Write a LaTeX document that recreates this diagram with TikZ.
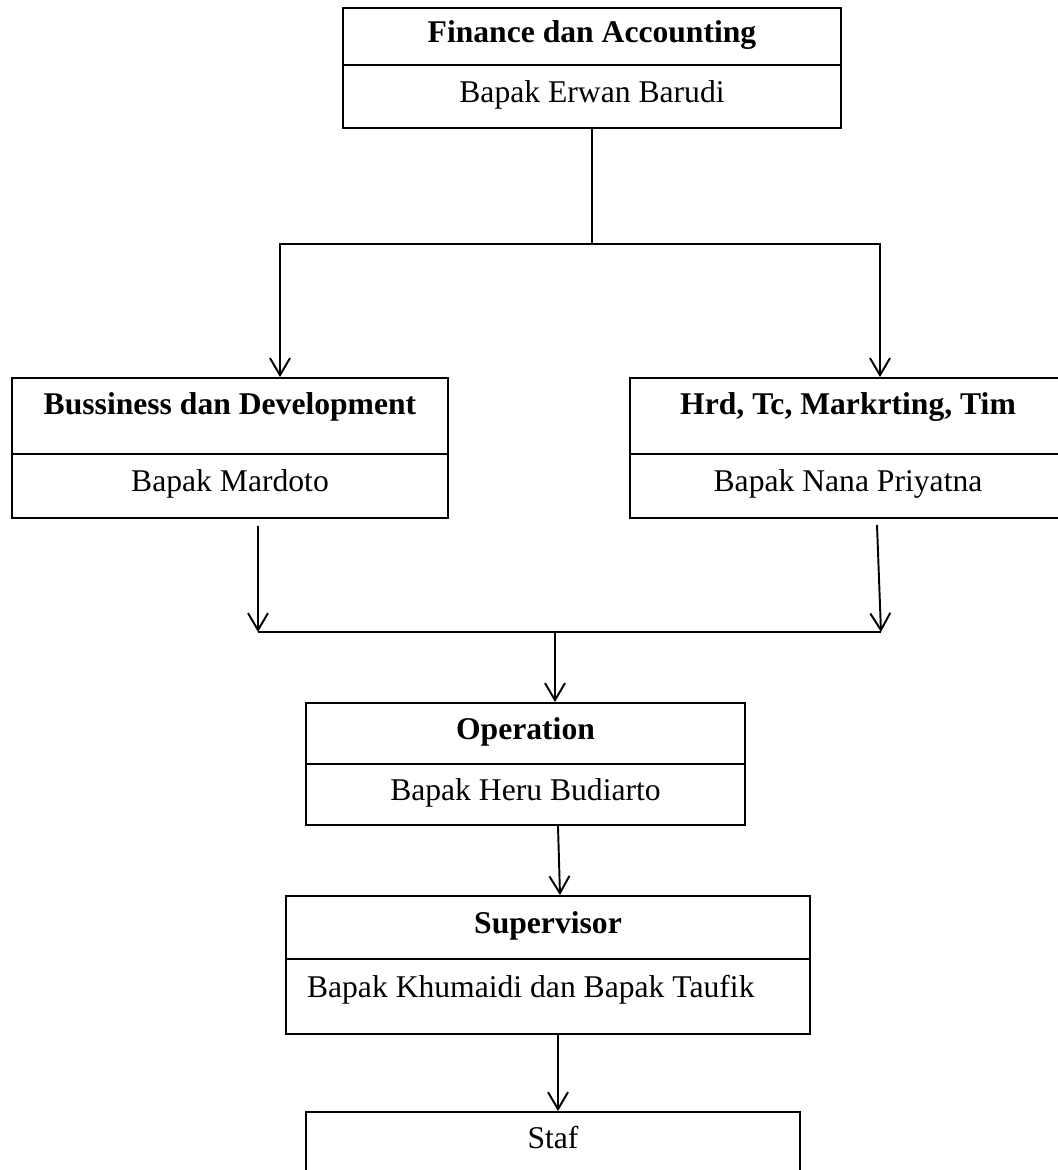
\documentclass[tikz,border=0pt]{standalone}
\usepackage{fontspec}
\setmainfont{Liberation Serif}
\usepackage{tikz}
\usetikzlibrary{positioning,arrows.meta,calc}
\def\fsz{\fontsize{18}{22}\selectfont}

\begin{document}
\begin{tikzpicture}[
  x=0.02cm, y=-0.02cm,
  cell/.style 2 args={rectangle,draw,line width=1.1pt,inner sep=0pt,
                      minimum width=#1*0.02cm,minimum height=#2*0.02cm,
                      font=\fsz,text height=0.9em,text depth=0.25em},
  head/.style={font=\fsz\bfseries},
  conn/.style={line width=1.1pt},
  arr/.style ={conn,-{Straight Barb[length=0.34cm,width=0.40cm]}}
]
\useasboundingbox (0,0) rectangle (1058,1170);
% boxes
\node[cell={498}{57},head] (fa)  at (592,36.5)  {Finance dan Accounting};
\node[cell={498}{63}]      (fan) at (592,96.5)  {Bapak Erwan Barudi};
\node[cell={436}{76},head,text depth=1.02em] (bd) at (230,416) {Bussiness dan Development};
\node[cell={436}{64}]      (bdn) at (230,486)   {Bapak Mardoto};
\node[cell={436}{76},head,text depth=1.02em] (hr) at (848,416) {Hrd, Tc, Markrting, Tim};
\node[cell={436}{64}]      (hrn) at (848,486)   {Bapak Nana Priyatna};
\node[cell={439}{61},head] (op)  at (525.5,733.5) {Operation};
\node[cell={439}{61}]      (opn) at (525.5,794.5) {Bapak Heru Budiarto};
\node[cell={524}{63},head] (sv)  at (548,927.5) {Supervisor};
\node[cell={524}{75},text depth=0.8em]
  (svn) at (548,996.5) {\makebox[9.64cm][l]{Bapak Khumaidi dan Bapak Taufik}};
\node[cell={494}{62}]      (st)  at (553,1143)  {Staf};
% top split
\coordinate (j0) at (592,244);
\draw[conn] (fan.south) -- (j0);
\draw[arr]  (j0) -| ([xshift=1cm]bd.north);
\draw[arr]  (j0) -| ([xshift=0.64cm]hr.north);
% merge
\coordinate (m1) at (258,632);
\coordinate (m2) at (881,632);
\coordinate (m3) at (555,632);
\draw[arr]  ([xshift=0.56cm,yshift=-0.14cm]bdn.south) -- (m1);
\draw[arr]  ([xshift=0.58cm,yshift=-0.12cm]hrn.south) -- (m2);
\draw[conn] (m1) -- (m2);
\draw[arr]  (m3) -- (m3 |- op.north);
% chain down
\draw[arr]  ([xshift=0.65cm]opn.south) -- ([xshift=0.24cm]sv.north);
\draw[arr]  ([xshift=0.2cm]svn.south) -- ([xshift=0.1cm]st.north);
\end{tikzpicture}
\end{document}
